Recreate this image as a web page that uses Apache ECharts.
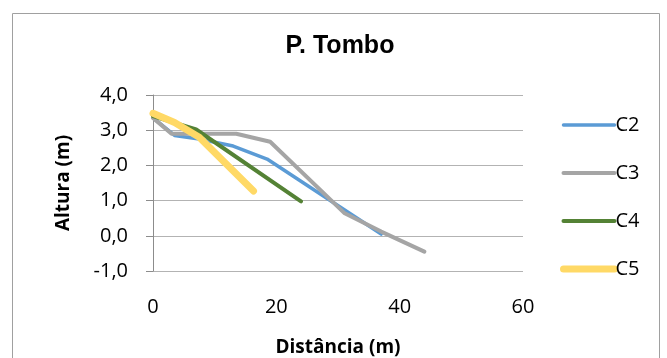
<!DOCTYPE html>
<html>
<head>
<meta charset="utf-8">
<script type="text/javascript" src="https://cdn.jsdelivr.net/npm/echarts@6/dist/echarts.min.js"></script>
<style>
 html, body { margin: 0; padding: 0; background: #fff; }
 #chart { width: 667px; height: 358px; }
</style>
</head>
<body>
<div id="chart"></div>
<script type="text/javascript">
// values: [distancia, altura]
var c2 = [[0, 3.35], [3.5, 2.85], [7.5, 2.75], [13, 2.55], [18.5, 2.18], [37, 0.05]];
var c3 = [[0, 3.35], [3, 2.9], [13.5, 2.9], [19, 2.67], [31, 0.65], [37, 0.12], [44, -0.45]];
var c4 = [[0, 3.4], [7, 3.02], [24, 0.98]];
var c5 = [[0, 3.48], [3.5, 3.22], [7.5, 2.8], [16.3, 1.27]];
var seriesNames = ['C2', 'C3', 'C4', 'C5'];
var seriesColors = ['#5B9BD5', '#A5A5A5', '#548235', '#FFD966'];
var seriesWidths = [3.5, 4, 4, 7];

var bodyFont = '"Open Sans", "Noto Sans", sans-serif';

function mkSeries(i, data) {
 return {
  name: seriesNames[i],
  type: 'line',
  data: data,
  symbol: 'none',
  animation: false,
  color: seriesColors[i],
  lineStyle: { color: seriesColors[i], width: seriesWidths[i], cap: 'round', join: 'round' }
 };
}

var cfg = {
 animation: false,
 title: {
  text: 'P. Tombo',
  left: 335,
  top: 29,
  textAlign: 'center',
  textStyle: { fontFamily: '"Liberation Sans", Arial, sans-serif', fontWeight: 'bold', fontSize: 25, color: '#000' }
 },
 graphic: [{
  type: 'rect',
  shape: { x: 12.5, y: 13.5, width: 647, height: 360 },
  style: { fill: 'none', stroke: '#A0A0A0', lineWidth: 1 },
  silent: true
 }],
 grid: { left: 153, right: 144, top: 95, bottom: 85.5 },
 legend: {
  orient: 'vertical',
  left: 555,
  top: 110,
  itemWidth: 51,
  itemHeight: 20,
  itemGap: 28,
  itemStyle: { opacity: 0 },
  lineStyle: { width: 'inherit', cap: 'round' },
  textStyle: { fontFamily: bodyFont, fontSize: 20, color: '#000', padding: [0, 0, 0, -4] },
  data: seriesNames
 },
 xAxis: {
  type: 'value',
  min: 0,
  max: 60,
  interval: 20,
  name: 'Distância (m)',
  nameLocation: 'middle',
  nameGap: 67,
  nameTextStyle: { fontFamily: bodyFont, fontWeight: 'bold', fontSize: 19, color: '#000' },
  axisLine: { show: false },
  axisTick: { show: false },
  splitLine: { show: false },
  axisLabel: { margin: 26, fontFamily: bodyFont, fontSize: 20, color: '#000' }
 },
 yAxis: {
  type: 'value',
  min: -1,
  max: 4,
  interval: 1,
  name: 'Altura (m)',
  nameLocation: 'middle',
  nameGap: 80,
  nameRotate: 90,
  nameTextStyle: { fontFamily: bodyFont, fontWeight: 'bold', fontSize: 19, color: '#000' },
  axisLine: { show: true, onZero: false, lineStyle: { color: '#8C8C8C', width: 1 } },
  axisTick: { show: true, inside: false, length: 7, lineStyle: { color: '#8C8C8C' } },
  splitLine: { show: true, lineStyle: { color: '#B3B3B3', width: 1 } },
  axisLabel: {
   margin: 25,
   fontFamily: bodyFont,
   fontSize: 20,
   color: '#000',
   formatter: function (v) { return v.toFixed(1).replace('.', ','); }
  }
 },
 series: [mkSeries(0, c2), mkSeries(1, c3), mkSeries(2, c4), mkSeries(3, c5)]
};

var myChart = echarts.init(document.getElementById('chart'), null, { renderer: 'canvas' });
myChart.setOption(cfg);
</script>
</body>
</html>
